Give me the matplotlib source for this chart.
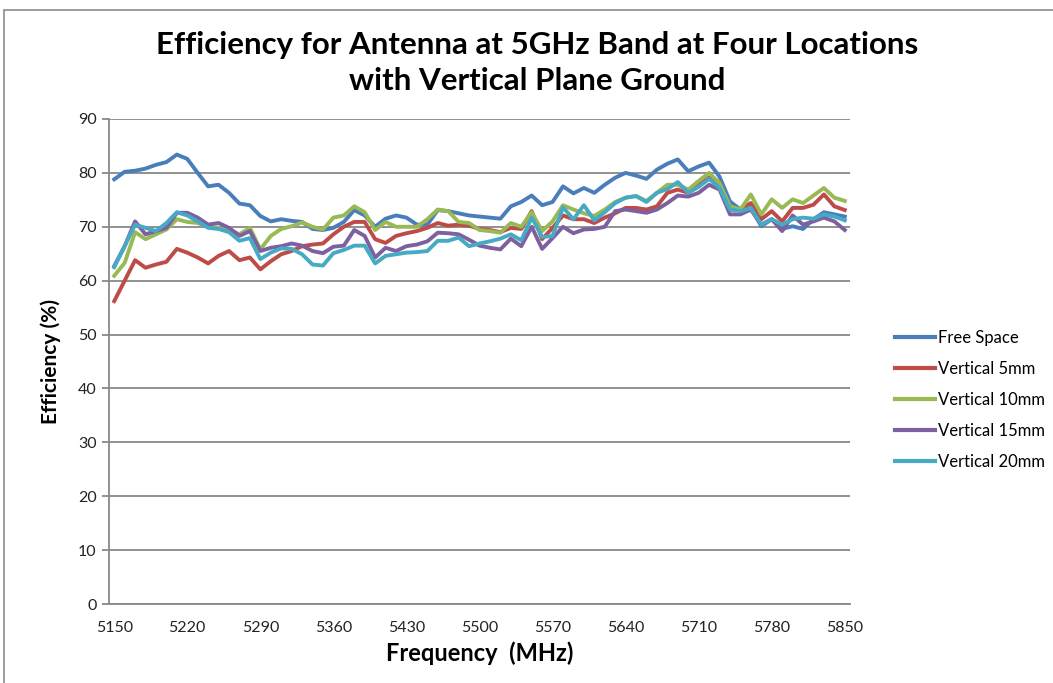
import numpy as np
import matplotlib
matplotlib.use("Agg")
import matplotlib.pyplot as plt
from matplotlib.patches import Rectangle

freq = list(range(5150, 5851, 10))

free_space = [78.8, 80.2, 80.4, 80.8, 81.5, 82.0, 83.4, 82.6, 80.0, 77.5,
              77.8, 76.3, 74.3, 74.0, 72.0, 71.0, 71.4, 71.1, 70.9, 69.6,
              69.4, 69.8, 70.9, 73.1, 72.1, 70.0, 71.5, 72.1, 71.7, 70.4,
              70.4, 73.1, 72.9, 72.5, 72.1, 71.9, 71.7, 71.5, 73.8, 74.6,
              75.8, 74.0, 74.6, 77.5, 76.2, 77.2, 76.3, 77.8, 79.1, 80.0,
              79.5, 78.9, 80.6, 81.7, 82.5, 80.3, 81.2, 81.9, 79.3, 74.7,
              73.2, 73.5, 70.1, 71.4, 69.6, 70.1, 69.6, 71.4, 72.7, 72.3,
              71.9]
vert_5mm = [56.2, 60.0, 63.8, 62.4, 63.0, 63.5, 65.9, 65.2, 64.3, 63.2,
            64.6, 65.5, 63.8, 64.3, 62.1, 63.6, 64.9, 65.5, 66.4, 66.7,
            66.9, 68.6, 70.0, 70.9, 70.9, 67.7, 67.0, 68.3, 68.8, 69.2,
            69.8, 70.7, 70.2, 70.4, 70.2, 69.6, 69.4, 69.0, 69.8, 69.6,
            72.9, 67.7, 69.8, 72.1, 71.4, 71.4, 70.7, 71.7, 72.5, 73.5,
            73.5, 73.2, 73.8, 76.3, 76.9, 76.3, 77.8, 79.1, 77.5, 73.5,
            73.2, 74.4, 71.4, 72.9, 71.0, 73.5, 73.5, 74.1, 76.0, 73.8,
            73.1]
vert_10mm = [60.9, 63.3, 69.0, 67.7, 68.6, 69.5, 71.4, 70.9, 70.7, 70.0,
             69.8, 69.5, 68.6, 69.8, 65.8, 68.3, 69.6, 70.1, 70.8, 70.0,
             69.5, 71.7, 72.1, 73.8, 72.7, 69.4, 70.9, 70.0, 70.0, 70.0,
             71.4, 73.2, 72.9, 70.9, 70.7, 69.4, 69.2, 68.9, 70.7, 70.0,
             72.7, 69.2, 71.0, 74.0, 73.2, 72.5, 72.0, 73.2, 74.6, 75.4,
             75.7, 74.8, 76.3, 77.8, 77.8, 76.9, 78.5, 80.0, 78.1, 73.8,
             73.2, 76.0, 72.3, 75.1, 73.5, 75.1, 74.4, 75.8, 77.2, 75.4,
             74.8]
vert_15mm = [62.7, 66.4, 71.0, 68.6, 69.2, 69.8, 72.6, 72.6, 71.7, 70.4,
             70.7, 69.8, 68.3, 69.2, 65.5, 66.1, 66.4, 66.9, 66.5, 65.5,
             65.1, 66.3, 66.5, 69.4, 68.3, 64.3, 66.1, 65.5, 66.4, 66.7,
             67.3, 68.9, 68.8, 68.6, 67.6, 66.5, 66.1, 65.8, 67.8, 66.4,
             70.0, 65.9, 67.9, 70.0, 68.8, 69.5, 69.6, 70.0, 72.9, 73.2,
             72.9, 72.6, 73.2, 74.4, 75.8, 75.6, 76.3, 77.8, 76.9, 72.3,
             72.3, 73.2, 70.4, 71.4, 69.2, 72.1, 70.4, 71.0, 71.7, 71.0,
             69.4]
vert_20mm = [62.5, 66.4, 70.4, 69.8, 69.2, 70.7, 72.7, 72.1, 71.0, 69.8,
             69.6, 69.0, 67.4, 67.9, 64.0, 65.2, 66.0, 65.9, 64.9, 63.0,
             62.8, 65.1, 65.7, 66.5, 66.5, 63.2, 64.6, 64.9, 65.2, 65.3,
             65.5, 67.4, 67.4, 68.0, 66.4, 66.9, 67.3, 67.8, 68.6, 67.5,
             71.7, 68.1, 68.3, 73.6, 71.4, 74.0, 71.2, 72.7, 74.4, 75.4,
             75.7, 74.6, 76.3, 77.0, 78.3, 76.3, 77.4, 78.9, 77.2, 73.2,
             72.9, 73.5, 70.4, 71.4, 70.4, 71.4, 71.7, 71.5, 72.3, 71.9,
             71.2]

series_names = ["Free Space", "Vertical 5mm", "Vertical 10mm", "Vertical 15mm", "Vertical 20mm"]
series_vals = [free_space, vert_5mm, vert_10mm, vert_15mm, vert_20mm]
colors = ["#4A7EBB", "#BE4B48", "#98B954", "#7D60A0", "#46AAC5"]
xticks = list(range(5150, 5851, 70))
yticks = list(range(0, 91, 10))

title = "Efficiency for Antenna at 5GHz Band at Four Locations\nwith Vertical Plane Ground"

W, H = 1053, 683
fig = plt.figure(figsize=(W / 100, H / 100), dpi=100)

# outer chart border
fig.patches.append(Rectangle((4 / W, -0.05), 1.2, (H - 10) / H + 0.05, transform=fig.transFigure,
                             fill=False, edgecolor="#8c8c8c", lw=1.2))

ax = fig.add_axes([109 / W, (H - 604) / H, (850 - 109) / W, (604 - 119) / H])
for name, vals, c in zip(series_names, series_vals, colors):
    ax.plot(freq, vals, color=c, lw=2.8, label=name, solid_joinstyle="round")

ax.set_xlim(5145, 5855)
ax.set_ylim(0, 90)
ax.set_xticks(xticks)
ax.set_yticks(yticks)
ax.yaxis.grid(True, color="#888888", lw=1.3)
ax.set_axisbelow(True)
for s in ["top", "right"]:
    ax.spines[s].set_visible(False)
for s in ["left", "bottom"]:
    ax.spines[s].set_color("#888888")
    ax.spines[s].set_linewidth(1.3)
ax.tick_params(axis="x", length=0, pad=12, labelsize=11.5, labelcolor="#222222")
ax.tick_params(axis="y", length=5, width=1.3, color="#888888", pad=4, labelsize=11.5, labelcolor="#222222")
for lab in ax.get_xticklabels() + ax.get_yticklabels():
    lab.set_family(["Lato", "DejaVu Sans"])

ax.set_xlabel("Frequency  (MHz)", fontsize=17, fontweight="bold", family=["Lato", "DejaVu Sans"], labelpad=5)
ax.set_ylabel("Efficiency (%)", fontsize=15, fontweight="bold", family=["Lato", "DejaVu Sans"], labelpad=12)

fig.text(537 / W, (H - 63) / H, title, ha="center", va="center", fontsize=22.5, fontweight="bold",
         family=["Lato", "DejaVu Sans"], linespacing=1.35)

leg = fig.legend(loc="upper left", bbox_to_anchor=(880 / W, (H - 315) / H), frameon=False,
                 handlelength=2.4, handletextpad=0.15, labelspacing=0.9,
                 prop={"family": ["Lato", "DejaVu Sans"], "size": 12})
for l in leg.get_lines():
    l.set_linewidth(3)

fig.savefig("out.png", dpi=100)
